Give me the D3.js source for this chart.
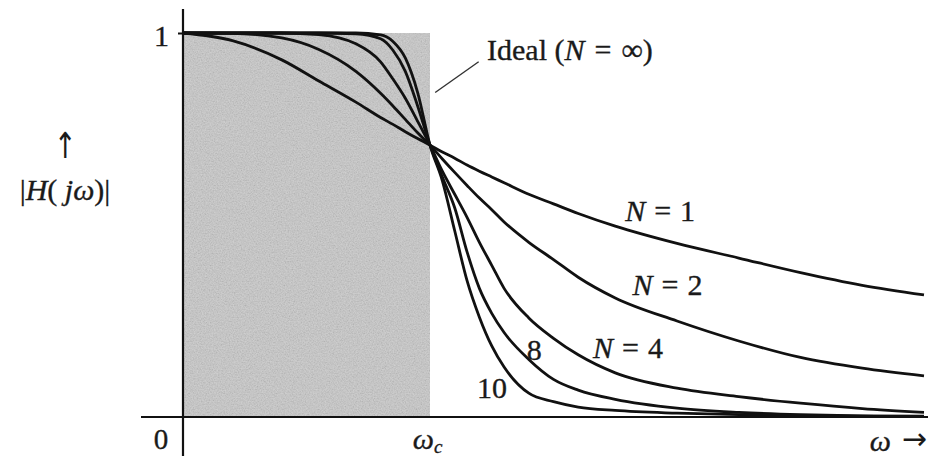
<!DOCTYPE html>
<html>
<head>
<meta charset="utf-8">
<script src="https://cdn.jsdelivr.net/npm/d3@7"></script>
<style>
  html, body { margin: 0; padding: 0; background: #fff; }
  svg { display: block; }
  text { font-family: "Liberation Serif", "Times New Roman", serif; fill: #1a1a1a; stroke: #1a1a1a; stroke-width: 0.35px; }
  .arrow { font-family: "DejaVu Sans", sans-serif; stroke-width: 0; }
</style>
</head>
<body>
<svg id="chart" width="928" height="456"></svg>
<script>
// Normalised frequency samples (ω / ωc)
const omega = [0, 0.2, 0.4, 0.55, 0.7, 0.8, 0.85, 0.9, 0.95, 1.0, 1.05, 1.1, 1.15, 1.2, 1.25, 1.3, 1.4, 1.5, 1.6, 1.75, 2.0, 2.25, 2.5, 2.75, 3.0];

// Magnitude |H(jω)| for each filter order
const gainN1  = [1, 0.98, 0.93, 0.875, 0.82, 0.78, 0.762, 0.743, 0.725, 0.708, 0.69, 0.674, 0.656, 0.64, 0.625, 0.61, 0.58, 0.555, 0.53, 0.497, 0.452, 0.414, 0.376, 0.343, 0.318];
const gainN2  = [1, 0.999, 0.987, 0.957, 0.90, 0.843, 0.81, 0.775, 0.74, 0.708, 0.672, 0.637, 0.603, 0.57, 0.54, 0.508, 0.455, 0.41, 0.364, 0.31, 0.25, 0.198, 0.155, 0.127, 0.107];
const gainN4  = [1, 1, 1, 0.996, 0.972, 0.925, 0.88, 0.83, 0.77, 0.708, 0.64, 0.58, 0.52, 0.455, 0.395, 0.335, 0.258, 0.205, 0.162, 0.115, 0.075, 0.053, 0.036, 0.022, 0.012];
const gainN8  = [1, 1, 1, 1, 0.998, 0.985, 0.955, 0.90, 0.81, 0.708, 0.625, 0.545, 0.43, 0.335, 0.27, 0.22, 0.15, 0.098, 0.07, 0.046, 0.023, 0.012, 0.006, 0.003, 0.002];
const gainN10 = [1, 1, 1, 1, 1, 0.995, 0.978, 0.935, 0.845, 0.708, 0.615, 0.485, 0.355, 0.26, 0.185, 0.13, 0.062, 0.04, 0.026, 0.017, 0.01, 0.006, 0.004, 0.002, 0.001];

// Ideal brick-wall response: unity gain up to the cutoff
const idealCutoff = 1;
const idealGain = 1;

// Axis tick values
const yTickValues = [1];
const yTickLabels = ["1"];
const xTickValues = [1];

const svg = d3.select("#chart");
const W = 928, H = 456;

const x = d3.scaleLinear().domain([0, 3]).range([183, 924]);
const y = d3.scaleLinear().domain([0, 1]).range([417, 33]);

// Grain for the shaded passband
const defs = svg.append("defs");
const grain = defs.append("filter").attr("id", "grain")
  .attr("x", 0).attr("y", 0).attr("width", 1).attr("height", 1);
grain.append("feTurbulence").attr("type", "fractalNoise")
  .attr("baseFrequency", 0.75).attr("numOctaves", 2).attr("seed", 7).attr("result", "noise");
grain.append("feColorMatrix").attr("in", "noise").attr("type", "matrix")
  .attr("values", "1 0 0 0 0  1 0 0 0 0  1 0 0 0 0  0 0 0 0 0.22").attr("result", "gray");
grain.append("feComposite").attr("in", "gray").attr("in2", "SourceGraphic").attr("operator", "in");

// Ideal (N = ∞) response
svg.append("rect")
  .attr("x", x(0)).attr("y", y(idealGain))
  .attr("width", x(idealCutoff) - x(0)).attr("height", y(0) - y(idealGain))
  .attr("fill", "#c7c7c7");
svg.append("rect")
  .attr("x", x(0)).attr("y", y(idealGain))
  .attr("width", x(idealCutoff) - x(0)).attr("height", y(0) - y(idealGain))
  .attr("fill", "#000").attr("filter", "url(#grain)");

// Response curves
const series = [
  { order: 1, gain: gainN1 },
  { order: 2, gain: gainN2 },
  { order: 4, gain: gainN4 },
  { order: 8, gain: gainN8 },
  { order: 10, gain: gainN10 }
];
const line = d3.line()
  .x((d, i) => x(omega[i]))
  .y(d => y(d))
  .curve(d3.curveMonotoneX);

svg.append("g").selectAll("path")
  .data(series)
  .join("path")
  .attr("d", s => line(s.gain))
  .attr("fill", "none")
  .attr("stroke", "#111")
  .attr("stroke-width", 2.8)
  .attr("stroke-linejoin", "round");

// Axes lines, extended past the plotted range
svg.append("line")
  .attr("x1", x(0)).attr("x2", x(0))
  .attr("y1", 9).attr("y2", H)
  .attr("stroke", "#111").attr("stroke-width", 2.2);
svg.append("line")
  .attr("x1", 141).attr("x2", W)
  .attr("y1", y(0)).attr("y2", y(0))
  .attr("stroke", "#111").attr("stroke-width", 2.2);

// Y axis tick
const yAxis = d3.axisLeft(y).tickValues(yTickValues)
  .tickFormat((d, i) => yTickLabels[i]).tickSize(5).tickPadding(9);
const gy = svg.append("g").attr("transform", `translate(${x(0)},0)`).call(yAxis);
gy.select(".domain").remove();
gy.selectAll(".tick line").attr("stroke", "#111").attr("stroke-width", 2);
gy.selectAll(".tick text")
  .attr("font-family", "Liberation Serif, serif")
  .attr("font-size", 30).attr("dy", "0.4em").attr("fill", "#1a1a1a");

// X axis: cutoff label ωc
const xAxis = d3.axisBottom(x).tickValues(xTickValues).tickSize(0).tickFormat("");
const gx = svg.append("g").attr("transform", `translate(0,${y(0)})`).call(xAxis);
gx.select(".domain").remove();
gx.selectAll(".tick").each(function () {
  const t = d3.select(this).append("text")
    .attr("x", -3).attr("y", 32)
    .attr("text-anchor", "middle")
    .attr("font-size", 30)
    .attr("font-style", "italic")
    .attr("fill", "#1a1a1a");
  t.append("tspan").text("ω");
  t.append("tspan").attr("font-size", 19).attr("dy", 4).text("c");
});

// Origin label
svg.append("text")
  .attr("x", 161).attr("y", y(0) + 32)
  .attr("text-anchor", "middle").attr("font-size", 29)
  .text("0");

// Frequency axis title
svg.append("text")
  .attr("x", 891).attr("y", y(0) + 34)
  .attr("text-anchor", "end").attr("font-size", 30)
  .attr("font-style", "italic").text("ω");
svg.append("text").attr("class", "arrow")
  .attr("x", 927).attr("y", y(0) + 32)
  .attr("text-anchor", "end").attr("font-size", 30)
  .text("→");

// Magnitude axis title
svg.append("text").attr("class", "arrow")
  .attr("x", 65).attr("y", 158)
  .attr("text-anchor", "middle").attr("font-size", 36)
  .attr("transform", "translate(65,158) scale(0.75,1) translate(-65,-158)")
  .text("↑");
const yt = svg.append("text")
  .attr("x", 65).attr("y", 200)
  .attr("text-anchor", "middle").attr("font-size", 30);
yt.append("tspan").text("|");
yt.append("tspan").attr("font-style", "italic").text("H");
yt.append("tspan").text("( ");
yt.append("tspan").attr("font-style", "italic").text("jω");
yt.append("tspan").text(")|");

// Curve annotations, placed in data coordinates
function label(parts, wx, hy) {
  const t = svg.append("text")
    .attr("x", x(wx)).attr("y", y(hy))
    .attr("font-size", 30);
  parts.forEach(p => t.append("tspan")
    .attr("font-style", p.italic ? "italic" : null)
    .attr("dx", p.dx || null)
    .text(p.text));
  return t;
}
label([{ text: "N", italic: true }, { text: "=", dx: 9 }, { text: "1", dx: 9 }], 1.79, 0.51);
label([{ text: "N", italic: true }, { text: "=", dx: 9 }, { text: "2", dx: 9 }], 1.82, 0.318);
label([{ text: "N", italic: true }, { text: "=", dx: 9 }, { text: "4", dx: 9 }], 1.66, 0.153);
label([{ text: "8" }], 1.392, 0.148);
label([{ text: "10" }], 1.19, 0.05);

// Ideal label with leader line
label([{ text: "Ideal (" }, { text: "N", italic: true }, { text: "=", dx: 10 }, { text: "∞", dx: 10 }, { text: ")" }], 1.231, 0.93);
svg.append("line")
  .attr("x1", x(1.021)).attr("y1", y(0.845))
  .attr("x2", x(1.197)).attr("y2", y(0.925))
  .attr("stroke", "#333").attr("stroke-width", 1.4);
</script>
</body>
</html>
